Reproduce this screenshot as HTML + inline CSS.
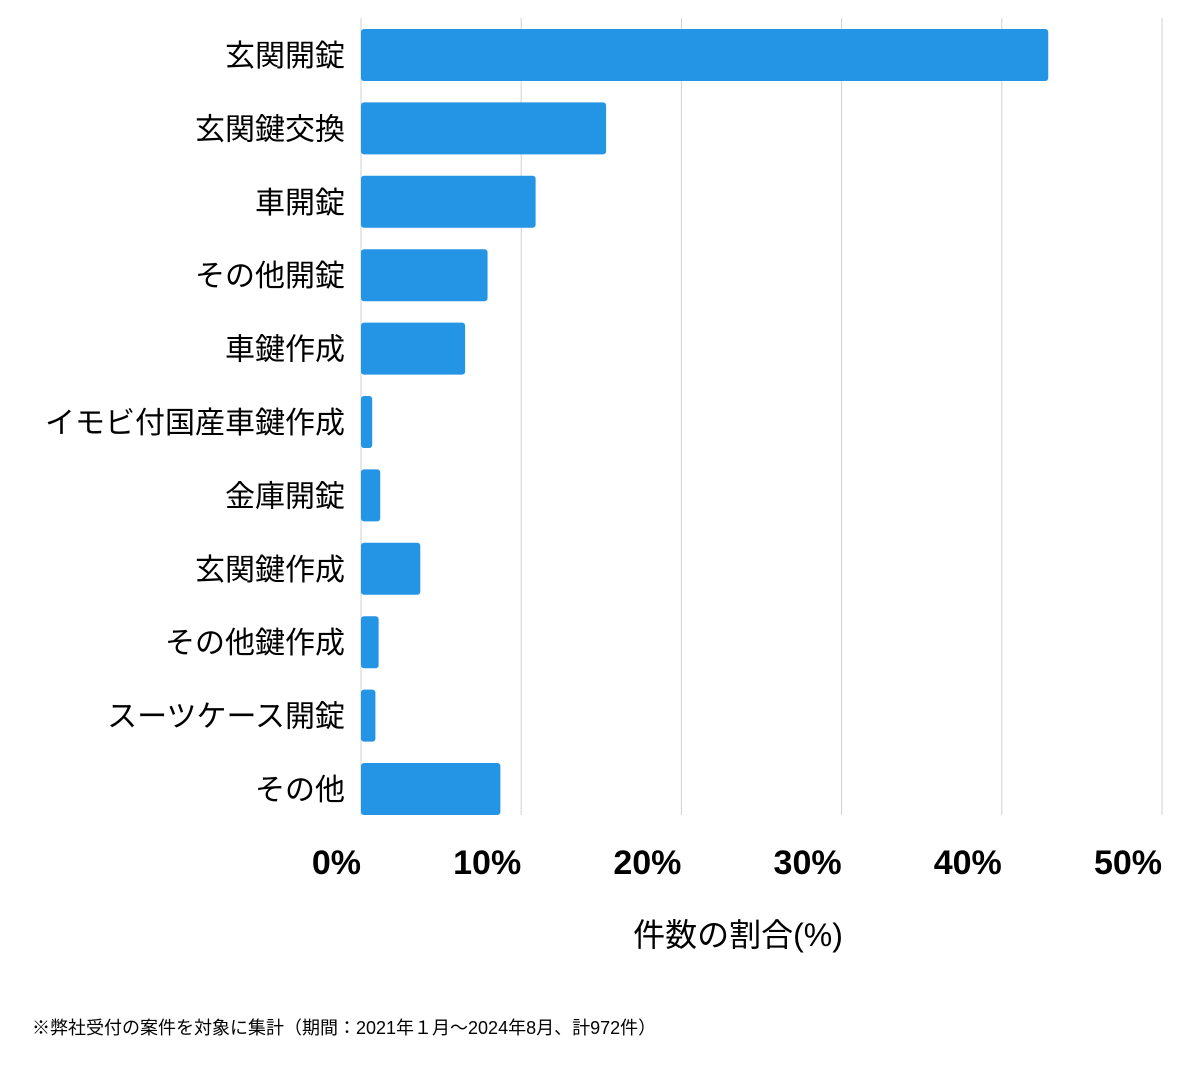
<!DOCTYPE html>
<html><head><meta charset="utf-8"><style>
body{margin:0;background:#fff;width:1200px;height:1069px;overflow:hidden;font-family:"Liberation Sans","Noto Sans CJK JP",sans-serif;}
</style></head><body>
<svg id="chart" width="1200" height="1069" xmlns="http://www.w3.org/2000/svg" style="font-family:'Liberation Sans','Noto Sans CJK JP',sans-serif"></svg>
<script>
const categories=["玄関開錠","玄関鍵交換","車開錠","その他開錠","車鍵作成","イモビ付国産車鍵作成","金庫開錠","玄関鍵作成","その他鍵作成","スーツケース開錠","その他"];
const values=[42.9,15.3,10.9,7.9,6.5,0.7,1.2,3.7,1.1,0.9,8.7];
const ticks=[0,10,20,30,40,50];
const tickLabels=["0%","10%","20%","30%","40%","50%"];
const svgEl=document.getElementById('chart');
const NS="http://www.w3.org/2000/svg";
const plotX0=361,plotX1=1162,plotTop=18,plotBottom=815,pitch=73.4,barH=52,firstY=29;
const xs=v=>plotX0+(plotX1-plotX0)*v/50;
function mk(t,a,txt){const e=document.createElementNS(NS,t);for(const k in a)e.setAttribute(k,a[k]);if(txt!=null)e.textContent=txt;svgEl.appendChild(e);return e;}
ticks.forEach((t,i)=>{
 const g=mk('line',{x1:xs(t),x2:xs(t),y1:plotTop,y2:plotBottom,stroke:'#d0d0d0','stroke-width':1});
 
 
 const l=mk('text',{x:xs(t),y:874,'text-anchor':'end','font-size':34,'font-weight':'bold',fill:'#000'},tickLabels[i]);
 
 
});
categories.forEach((c,i)=>{
 const y=firstY+i*pitch;
 const r=mk('rect',{x:plotX0,y:y,width:Math.max(0,xs(values[i])-plotX0),height:barH,rx:3,fill:'#2494e5'});
 
 
 const t=mk('text',{x:345,y:y+barH/2+11,'text-anchor':'end','font-size':30,fill:'#000'},c);
 
 
});
const at=mk('text',{x:738,y:946,'text-anchor':'middle','font-size':32,fill:'#000'},'件数の割合(%)');


const fn=mk('text',{x:32,y:1034,'font-size':18,fill:'#000'},'※弊社受付の案件を対象に集計（期間：2021年１月〜2024年8月、計972件）');


</script>
</body></html>
